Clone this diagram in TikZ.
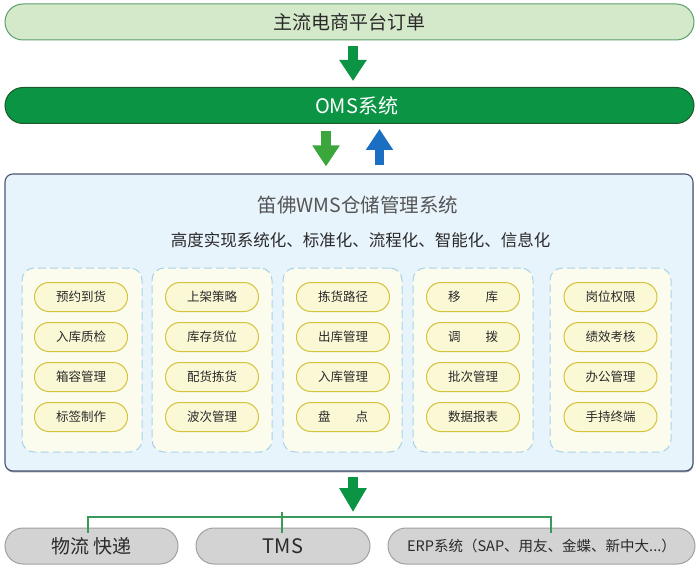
\documentclass[tikz,border=0pt]{standalone}
\usepackage{fontspec}
\setmainfont{Noto Sans CJK SC}
\usetikzlibrary{arrows.meta,shadows}
\definecolor{topfill}{HTML}{D4E9C9}
\definecolor{topline}{HTML}{5E9E6C}
\definecolor{omsfill}{HTML}{0B9444}
\definecolor{omsline}{HTML}{1E5A2C}
\definecolor{arrowgreen}{HTML}{0B9444}
\definecolor{arrowlight}{HTML}{3AA63C}
\definecolor{arrowblue}{HTML}{1B6FC2}
\definecolor{wmsfill}{HTML}{E8F4FC}
\definecolor{wmsline}{HTML}{4A5472}
\definecolor{grpfill}{HTML}{FCFCEE}
\definecolor{grpline}{HTML}{A8D2E8}
\definecolor{pillfill}{HTML}{FBF8D6}
\definecolor{pillline}{HTML}{D4C23C}
\definecolor{botfill}{HTML}{D3D3D3}
\definecolor{botline}{HTML}{A0A0A0}
\definecolor{busgreen}{HTML}{3A9A5C}
\definecolor{txtdark}{HTML}{2A2A2A}
\definecolor{txtgray}{HTML}{555555}
\tikzset{
  bar/.style={draw, line width=1pt, rounded corners=18pt, minimum width=689pt, minimum height=36pt, inner sep=0pt},
  pill/.style={draw=pillline, fill=pillfill, line width=1pt, rounded corners=14.5pt, minimum width=93pt, minimum height=29pt, inner sep=0pt, text=txtdark, font=\fontsize{12.5}{14}\selectfont},
  grp/.style={draw=grpline, fill=grpfill, line width=1pt, dash pattern=on 8pt off 4pt, rounded corners=12pt, minimum height=184pt, inner sep=0pt},
  botpill/.style={draw=botline, fill=botfill, line width=1pt, rounded corners=18pt, minimum height=36pt, inner sep=0pt, text=txtdark},
  blockarrow/.style={line width=10pt, draw=#1, -{Triangle[length=21pt,width=26pt]}},
  busline/.style={draw=busgreen, line width=1.3pt}
}
\begin{document}
\begin{tikzpicture}[x=1pt,y=-1pt]
\useasboundingbox (0,0) rectangle (700,569);
% top bars
\node[bar, draw=topline, fill=topfill, text=txtdark, font=\fontsize{19}{22}\selectfont] (top) at (349.5,22) {主流电商平台订单};
\node[bar, draw=omsline, fill=omsfill, text=white] (oms) at (349.5,105.5) {};
\node[text=white, font=\fontsize{20}{23}\selectfont] (omstext) at (356.5,105.5) {OMS系统};
% WMS box
\node[draw=wmsline, fill=wmsfill, line width=1.1pt, rounded corners=8pt, minimum width=688pt, minimum height=297pt, inner sep=0pt,
  drop shadow={shadow xshift=0.4pt, shadow yshift=-1.4pt, fill=wmsline, opacity=0.6}] (wms) at (349,322.5) {};
\node[text=txtgray, font=\fontsize{19.5}{22}\selectfont] (wmstitle) at (358,205) {笛佛WMS仓储管理系统};
\node[text=txtdark, font=\fontsize{16.5}{19}\selectfont] (wmssub) at (360.5,240) {高度实现系统化、标准化、流程化、智能化、信息化};
% groups
\node[grp, minimum width=120pt] (g1) at (82,360) {};
\node[grp, minimum width=120pt] (g2) at (212,360) {};
\node[grp, minimum width=119pt] (g3) at (342.5,360) {};
\node[grp, minimum width=120pt] (g4) at (473,360) {};
\node[grp, minimum width=121pt] (g5) at (610.5,360) {};
% pills
\node[pill] (a1) at (81,297) {预约到货};
\node[pill] (a2) at (81,337) {入库质检};
\node[pill] (a3) at (81,377) {箱容管理};
\node[pill] (a4) at (81,417) {标签制作};
\node[pill] (b1) at (212,297) {上架策略};
\node[pill] (b2) at (212,337) {库存货位};
\node[pill] (b3) at (212,377) {配货拣货};
\node[pill] (b4) at (212,417) {波次管理};
\node[pill] (c1) at (343,297) {拣货路径};
\node[pill] (c2) at (343,337) {出库管理};
\node[pill] (c3) at (343,377) {入库管理};
\node[pill] (c4) at (343,417) {盘\hspace{2em}点};
\node[pill] (d1) at (473,297) {移\hspace{2em}库};
\node[pill] (d2) at (473,337) {调\hspace{2em}拨};
\node[pill] (d3) at (473,377) {批次管理};
\node[pill] (d4) at (473,417) {数据报表};
\node[pill] (e1) at (610.5,297) {岗位权限};
\node[pill] (e2) at (610.5,337) {绩效考核};
\node[pill] (e3) at (610.5,377) {办公管理};
\node[pill] (e4) at (610.5,417) {手持终端};
% bottom pills
\node[botpill, minimum width=173pt, font=\fontsize{19}{22}\selectfont] (x1) at (91.5,546) {物流 快递};
\node[botpill, minimum width=174pt, font=\fontsize{20}{23}\selectfont] (x2) at (283,546) {TMS};
\node[botpill, minimum width=307pt, font=\fontsize{14.5}{17}\selectfont] (x3) at (541.5,546) {ERP系统（SAP、用友、金蝶、新中大...）};
% arrows
\draw[blockarrow=arrowgreen, shorten <=6pt, shorten >=6pt] ([xshift=3.5pt]top.south) -- ([xshift=3.5pt]oms.north);
\draw[blockarrow=arrowlight, shorten <=7pt, shorten >=7pt] ([xshift=-23.5pt]oms.south) -- ([xshift=-23pt]wms.north);
\draw[blockarrow=arrowblue, line width=9.5pt, shorten <=8pt, shorten >=5pt] ([xshift=30.5pt]wms.north) -- ([xshift=30pt]oms.south);
% bus
\coordinate (bus) at (353,512);
\draw[blockarrow=arrowgreen, -{Triangle[length=24pt,width=26pt]}, shorten <=5pt] ([xshift=4pt]wms.south) -- (bus);
\draw[busline] ([xshift=-3.5pt,yshift=-5pt]x1.north) |- ([xshift=9.5pt,yshift=-5pt]x3.north |- bus) -- ([xshift=9.5pt,yshift=-5pt]x3.north);
\draw[busline] ([xshift=-1pt,yshift=-5pt]x2.north) -- ([xshift=-1pt]x2.north |- bus);
\end{tikzpicture}
\end{document}
